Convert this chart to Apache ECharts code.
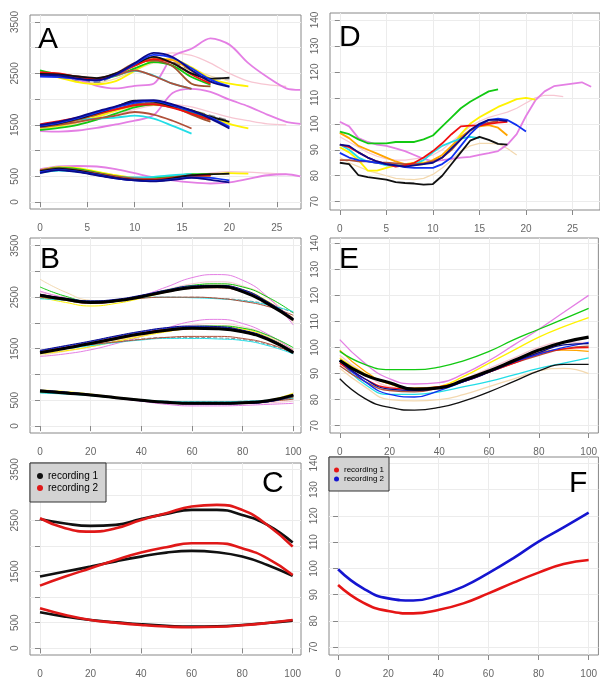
<!DOCTYPE html>
<html><head><meta charset="utf-8">
<script src="https://cdn.jsdelivr.net/npm/echarts@6/dist/echarts.min.js"></script>
<style>html,body{margin:0;padding:0;background:#fff}#c{width:600px;height:680px}</style>
</head><body><div id="c"></div>
<script>
// ---------- DATA ----------
const lineNames = ['pink','wheat','gray','violet','yellow','orange','green','cyan','brown','sienna','red','black','blue','navy'];

// Panel A: time (x) and three formant bands per recording (lines end at different times)
const aTime = [0,2,4,6,8,10,12,14,16,18,20,22,24,26,27.5];
const aF3 = [
 [2500,2480,2450,2420,2500,2650,2820,2900,2850,2700,2500,2350,2280,2250],
 [2460,2420,2350,2320,2400,2560,2700,2720,2600,2450,2350],
 [2480,2440,2360,2330,2480,2680,2800,2720,2560,2400,2400],
 [2450,2430,2380,2260,2210,2260,2300,2830,2980,3180,3060,2700,2430,2210,2180],
 [2500,2420,2330,2290,2350,2550,2750,2780,2620,2400,2300,2250],
 [2480,2450,2400,2380,2480,2650,2780,2760,2550,2320],
 [2560,2480,2420,2380,2450,2600,2720,2650,2430,2280],
 [2480,2470,2420,2380,2460,2550,2460,2300,2200],
 [2520,2490,2440,2400,2460,2560,2450,2300,2200],
 [2500,2470,2420,2400,2500,2700,2750,2640,2300,2250],
 [2520,2500,2430,2390,2480,2650,2780,2700,2480,2300],
 [2490,2480,2440,2410,2500,2680,2820,2700,2500,2400,2420],
 [2440,2430,2390,2360,2470,2680,2860,2800,2600,2380,2250],
 [2470,2460,2400,2370,2480,2700,2900,2820,2560,2340,2240]
];
const aF2 = [
 [1450,1480,1520,1600,1700,1800,1880,1900,1850,1750,1650,1580,1520,1500],
 [1430,1470,1540,1640,1760,1860,1880,1840,1750,1620,1500],
 [1500,1550,1610,1720,1840,1940,1930,1860,1780,1680,1580],
 [1380,1370,1390,1440,1510,1580,1690,2120,2200,2140,1990,1860,1700,1560,1520],
 [1440,1480,1560,1660,1780,1880,1900,1860,1780,1650,1520,1430],
 [1460,1520,1600,1700,1800,1880,1900,1860,1760,1640],
 [1400,1440,1500,1600,1720,1840,1900,1840,1740,1600],
 [1500,1560,1600,1620,1640,1680,1620,1480,1330],
 [1450,1500,1560,1620,1680,1750,1700,1580,1430],
 [1480,1520,1600,1700,1800,1900,1920,1850,1700,1560],
 [1510,1570,1640,1720,1800,1880,1900,1830,1720,1600],
 [1470,1530,1620,1730,1850,1970,1950,1870,1780,1660,1560],
 [1480,1540,1630,1740,1840,1930,1960,1880,1760,1640,1460],
 [1500,1560,1650,1760,1860,1960,1980,1900,1780,1620,1430]
];
const aF1 = [
 [620,660,640,580,520,480,470,490,520,560,590,580,560,540],
 [600,650,630,570,500,460,450,470,510,540,560],
 [580,630,600,540,470,430,440,480,520,540,550],
 [640,690,700,690,640,560,480,420,380,360,380,450,520,540,500],
 [620,680,660,590,520,470,460,480,520,540,560,550],
 [600,660,620,560,490,450,440,470,500,510],
 [610,670,640,570,500,460,470,500,540,540],
 [570,610,590,540,490,480,490,520,540],
 [620,660,620,560,500,460,450,480,520],
 [600,640,600,540,480,440,430,460,500,520],
 [590,640,600,530,470,430,430,470,510,520],
 [600,650,610,540,470,430,420,460,520,540,550],
 [580,630,590,530,460,420,410,440,480,470,420],
 [560,620,580,520,460,420,400,430,470,430,380]
];

// Panel D: time (x) and pitch-like values, one row per recording (empty = not drawn)
const dTime = [0,1,2,3,4,5,6,7,8,9,10,11,12,13,14,15,16,17,18,19,20,21,22,23,24,25,26,27];
const dVals = [
 [95,93,91,89,87.5,86.5,86,86,86.5,87,88,90,93,96,99,101,102.5,103.5,104.5,106,108,110,111,111,110.5],
 [87,85,83.5,82,81,80,79,78.7,78.5,79,80.5,83,86,89.5,91.5,92.5,92.5,92.3,90.5,88],
 [],
 [100.8,99,94.5,93,92,91.5,90.5,89.5,88,86.5,85.5,86,86.5,87,87.3,88,88.7,89.5,92,96,103,109,112.5,114.5,115,115.5,116,114.3],
 [91,89,86,82,82,83,84,84.5,85,85,85.5,87,91,96,100,102.5,104.5,106.5,108,109.5,110,109.3],
 [96.5,94.5,91.5,90,88.5,87,85.5,84.5,84.2,84.5,86,88,91.5,95,97.5,99,99.5,98.5,95.5],
 [97,96,94,92.5,92.5,92.5,93,93,93,94,95.5,99,102.5,106,108.5,110.5,112.5,113.3],
 [92,90,87,85.5,85,84,84,84,84.5,86,89,91.5,93,94.3,95,94.5],
 [86,86,85.5,85.5,85,85,84.8,84.5,84.5,84.8,85.5,87,90,94,97.5,99.5,100.5,101],
 [],
 [92,91,89,87,85.5,84.5,83.5,84,85,87,89.5,92.5,96,99,99.3,99.3,100,100.5,100.8],
 [85,84.5,80.2,79.5,79,78.5,77.5,77.2,77,76.6,76.8,80,84.5,89,93.5,95,93.8,92.3,92],
 [88.8,87,86,85.5,85,84.5,84,83.3,83,83,83,84.5,87,91.5,96,99.5,101.5,102,101.5,99.5,97],
 [92,91.5,89,87,85.5,84.5,84,83.5,84,84.5,85,87,90.5,94,97.5,100,101.5,101.5,101]
];

// Normalised time (0-100 %) for panels B, C, E, F
const nTime = [0,10,20,30,40,50,60,70,80,90,100];

// Panel B: per recording, three bands
const bF3 = [
 [2600,2500,2420,2440,2530,2650,2760,2800,2720,2480,2050],
 [2850,2600,2440,2420,2500,2620,2720,2760,2700,2500,2000],
 [2480,2450,2410,2440,2490,2500,2500,2480,2440,2360,2200],
 [2620,2480,2380,2420,2530,2700,2880,2940,2830,2500,1960],
 [2500,2400,2330,2380,2480,2600,2700,2730,2650,2420,2080],
 [2540,2450,2400,2430,2510,2610,2680,2690,2620,2400,2100],
 [2700,2520,2420,2440,2530,2640,2730,2760,2700,2500,2200],
 [2470,2440,2400,2440,2490,2500,2490,2470,2430,2350,2220],
 [2500,2450,2400,2430,2480,2500,2500,2480,2420,2320,2150],
 [2520,2440,2380,2420,2500,2600,2670,2680,2600,2380,2050],
 [2560,2470,2410,2440,2520,2620,2690,2700,2620,2390,2060],
 [2530,2460,2400,2430,2510,2610,2690,2700,2610,2380,2070],
 [2560,2470,2420,2450,2530,2630,2700,2720,2640,2400,2080],
 [2550,2480,2430,2460,2540,2640,2720,2730,2650,2410,2090]
];
const bF2 = [
 [1400,1460,1540,1650,1770,1880,1960,1990,1930,1760,1480],
 [1370,1450,1540,1650,1760,1860,1930,1950,1900,1740,1480],
 [1460,1520,1580,1640,1690,1720,1720,1710,1680,1580,1420],
 [1350,1400,1480,1600,1740,1900,2030,2070,1990,1780,1470],
 [1400,1460,1540,1640,1740,1830,1900,1920,1880,1720,1450],
 [1430,1500,1580,1680,1770,1840,1880,1880,1830,1690,1460],
 [1440,1510,1600,1700,1800,1880,1930,1940,1900,1760,1520],
 [1450,1500,1560,1620,1670,1700,1700,1690,1660,1560,1400],
 [1450,1520,1580,1630,1680,1720,1740,1740,1700,1600,1420],
 [1440,1520,1600,1700,1790,1860,1890,1880,1820,1680,1440],
 [1440,1530,1620,1720,1810,1880,1910,1900,1840,1690,1440],
 [1420,1510,1600,1700,1790,1860,1900,1890,1830,1680,1420],
 [1460,1550,1640,1740,1830,1900,1930,1920,1850,1700,1440],
 [1470,1560,1650,1750,1840,1910,1940,1930,1860,1710,1450]
];
const bF1 = [
 [660,640,600,550,500,450,420,420,430,450,480],
 [690,660,610,560,510,470,450,450,460,480,520],
 [650,630,590,550,510,480,470,470,480,500,530],
 [660,640,600,540,480,420,390,390,400,420,440],
 [700,670,620,560,510,470,450,450,460,500,640],
 [680,650,600,550,500,460,440,440,450,480,580],
 [650,630,590,540,500,470,450,450,460,490,560],
 [640,620,590,550,510,480,470,470,480,500,540],
 [670,640,600,550,500,460,450,450,460,480,520],
 [680,650,600,540,490,450,430,430,440,470,560],
 [690,650,600,545,495,455,435,435,445,480,590],
 [680,645,600,550,500,460,440,440,450,485,595],
 [690,660,610,550,490,450,430,430,440,470,580],
 [700,660,610,550,490,450,430,425,435,470,600]
];
const bMeanF3 = [2540,2460,2400,2430,2510,2610,2690,2710,2610,2370,2060];
const bMeanF2 = [1423,1510,1600,1700,1790,1860,1900,1890,1830,1680,1420];
const bMeanF1 = [680,640,600,550,500,460,440,440,450,490,600];

// Panel E: per recording
const eVals = [
 [97,90,85,84,85,88,92,96,100,102,102],
 [92,85,80,79.5,80,82,85,88,91,92,90],
 [],
 [103,94,88,86,86.5,90,95,101,107,113.5,120],
 [96,90,86,84,85,89,94,99,104,108,111.5],
 [99,91,86,84.5,85,87.5,91,94.5,98,99,98.5],
 [98.5,93.5,91.5,91.5,92.5,95,98.5,103,107,111,115],
 [95,86,82,82,83,85,87,89.5,92,94,96],
 [93,87,83.5,83,84.5,87,90.5,94,97,99.5,100.5],
 [],
 [94,88,84.5,84,85,87,90.5,94,97.5,99.5,100],
 [88,80.5,77,76,77,79.5,83,87,91,93.5,93.5],
 [95,87,82,81,83.5,87,91,94.5,97.5,100,102],
 [95,88,84,83.5,84.5,87,90.5,94.5,98,101,101.5]
];
const eMean = [95,89.5,86.5,84,84.5,87.5,91,95,99,102,104];

// Panel C: two recordings, three bands
const cRec1F3 = [2530,2440,2393,2413,2530,2628,2706,2706,2608,2412,2067];
const cRec2F3 = [2543,2347,2282,2347,2510,2640,2771,2804,2706,2412,1989];
const cRec1F2 = [1402,1500,1597,1700,1793,1871,1904,1878,1793,1630,1415];
const cRec2F2 = [1226,1402,1565,1728,1871,1976,2054,2054,1956,1760,1434];
const cRec1F1 = [704,619,554,510,469,440,424,430,456,495,541];
const cRec2F1 = [782,652,554,500,456,425,411,420,450,495,554];

// Panel F: two recordings
const fRec1 = [93.7,87,83.8,82.9,84.2,86.7,90.5,94.6,98.4,101.7,103.2];
const fRec2 = [99.7,92.4,88.6,87.8,89.7,93.1,98.2,103.9,110.2,115.6,121.2];

// Axis ticks / labels
const hzTicks = [0,500,1000,1500,2000,2500,3000,3500];
const hzLabels = [0,500,1500,2500,3500];
const f0Ticks = [70,80,90,100,110,120,130,140];
const timeTicks = [0,5,10,15,20,25];
const pctTicks = [0,20,40,60,80,100];
const legendNames = ['recording 1','recording 2'];

// ---------- STYLE ----------
const lineColors = {pink:'#F7C6D2',wheat:'#F3D9B0',gray:'#8a8a8a',violet:'#E47FE4',yellow:'#FFF200',orange:'#FFA500',
  green:'#12C912',cyan:'#22DDE6',brown:'#B0503A',sienna:'#A0522D',red:'#F01010',black:'#111111',blue:'#1030F0',navy:'#0A0A8A'};
const FONT = '"Liberation Sans", Arial, sans-serif';
const FRAME = '#888';
const LABEL = '#666';
const GRIDC = '#ececec';

const grids = [
  {left:30, top:15, width:271, height:194},   // A
  {left:330, top:13, width:275, height:197},  // D
  {left:30, top:238, width:271, height:195},  // B
  {left:330, top:238, width:275, height:195}, // E
  {left:30, top:463, width:271, height:192},  // C
  {left:329, top:457, width:276, height:198}  // F
];
const xRanges = [[-1.056,27.56],[-1.055,27.95],[-3.95,103.04],[-3.92,103.9],[-3.96,103.3],[-3.62,103.9]];
const yRanges = [[-136,3636],[66.8,142.69],[-136,3650],[67.2,142.0],[-131,3623],[67.07,142.38]];
const xTickSets = [timeTicks,timeTicks,pctTicks,pctTicks,pctTicks,pctTicks];
const yTickSets = [hzTicks,f0Ticks,hzTicks,f0Ticks,hzTicks,f0Ticks];
const yLabelSets = [hzLabels,f0Ticks,hzLabels,f0Ticks,hzLabels,f0Ticks];
const plain = v => String(Math.round(v));

const xAxes = [], yAxes = [];
for (let i = 0; i < 6; i++) {
  xAxes.push({type:'value', gridIndex:i, min:xRanges[i][0], max:xRanges[i][1],
    axisLine:{show:false},
    axisTick:{show:true, length:5, customValues:xTickSets[i], lineStyle:{color:FRAME}},
    axisLabel:{customValues:xTickSets[i], formatter:plain, color:LABEL, fontSize:10, fontFamily:FONT, margin:14, hideOverlap:false},
    splitLine:{show:true, lineStyle:{color:GRIDC, width:1}}});
  yAxes.push({type:'value', gridIndex:i, min:yRanges[i][0], max:yRanges[i][1],
    axisLine:{show:false},
    axisTick:{show:true, length:5, customValues:yTickSets[i], lineStyle:{color:FRAME}},
    axisLabel:{customValues:yLabelSets[i], formatter:plain, rotate:90, color:LABEL, fontSize:10, fontFamily:FONT, margin:10, hideOverlap:false},
    splitLine:{show:true, lineStyle:{color:GRIDC, width:1}}});
}

function zipXY(xs, ys) { return ys.map((v, k) => [xs[k], v]); }
const series = [];
function addLine(g, xs, ys, color, width, smooth, z, name, dashed) {
  if (!ys.length) return;
  series.push({type:'line', name: name || ('s' + series.length), xAxisIndex:g, yAxisIndex:g,
    data: zipXY(xs, ys), showSymbol:false, symbol:'none', smooth: smooth, silent:true,
    lineStyle:{color:color, width:width, type: dashed ? 'dashed' : 'solid'}, itemStyle:{color:color}, z:z});
}
function widthFor(n, base) { return (n === 'pink' || n === 'wheat') ? base * 0.7 : base; }

lineNames.forEach((n, k) => {
  const c = lineColors[n];
  [aF3, aF2, aF1].forEach(arr => addLine(0, aTime, arr[k], c, widthFor(n, 1.8), 0.3, 2 + k, null, n === 'gray'));
  addLine(1, dTime, dVals[k], c, widthFor(n, 1.8), false, 2 + k, null, false);
  [bF3, bF2, bF1].forEach(arr => addLine(2, nTime, arr[k], c, 1, true, 2 + k, null, n === 'gray'));
  addLine(3, nTime, eVals[k], c, 1.3, true, 2 + k, null, false);
});
[bMeanF3, bMeanF2, bMeanF1].forEach(arr => addLine(2, nTime, arr, '#000', 3, true, 30));
addLine(3, nTime, eMean, '#000', 3.2, true, 30);
[cRec1F3, cRec1F2, cRec1F1].forEach(arr => addLine(4, nTime, arr, '#111', 2.6, true, 10, legendNames[0]));
[cRec2F3, cRec2F2, cRec2F1].forEach(arr => addLine(4, nTime, arr, '#E01818', 2.6, true, 11, legendNames[1]));
addLine(5, nTime, fRec1, '#E51515', 2.6, true, 10, legendNames[0]);
addLine(5, nTime, fRec2, '#1515D0', 2.6, true, 11, legendNames[1]);

const letters = [['A',38,25],['D',339,23],['B',40,245],['E',339,245],['C',262,469],['F',569,469]];

const chart = echarts.init(document.getElementById('c'), null, {renderer:'canvas'});
chart.setOption({
  animation:false,
  backgroundColor:'#fff',
  grid: grids.map(g => Object.assign({show:true, borderColor:FRAME, borderWidth:1, backgroundColor:'transparent', containLabel:false}, g)),
  xAxis: xAxes,
  yAxis: yAxes,
  series: series,
  legend: [
    {left:30, top:463, orient:'vertical', backgroundColor:'#d3d3d3', borderColor:'#333', borderWidth:1,
     padding:[8,8,9,7], itemGap:2, itemWidth:6, itemHeight:6, icon:'circle', selectedMode:false,
     textStyle:{fontSize:10, color:'#000', fontFamily:FONT},
     data:[{name:legendNames[0], itemStyle:{color:'#111'}}, {name:legendNames[1], itemStyle:{color:'#E01818'}}]},
    {left:329, top:457, orient:'vertical', backgroundColor:'#d3d3d3', borderColor:'#333', borderWidth:1,
     padding:[9,5,8,5], itemGap:1, itemWidth:5, itemHeight:5, icon:'circle', selectedMode:false,
     textStyle:{fontSize:8, color:'#000', fontFamily:FONT},
     data:[{name:legendNames[0], itemStyle:{color:'#E51515'}}, {name:legendNames[1], itemStyle:{color:'#1515D0'}}]}
  ],
  graphic: letters.map(l => ({type:'text', left:l[1], top:l[2], z:100,
    style:{text:l[0], fill:'#000', font:'30px ' + FONT}}))
});
</script></body></html>
